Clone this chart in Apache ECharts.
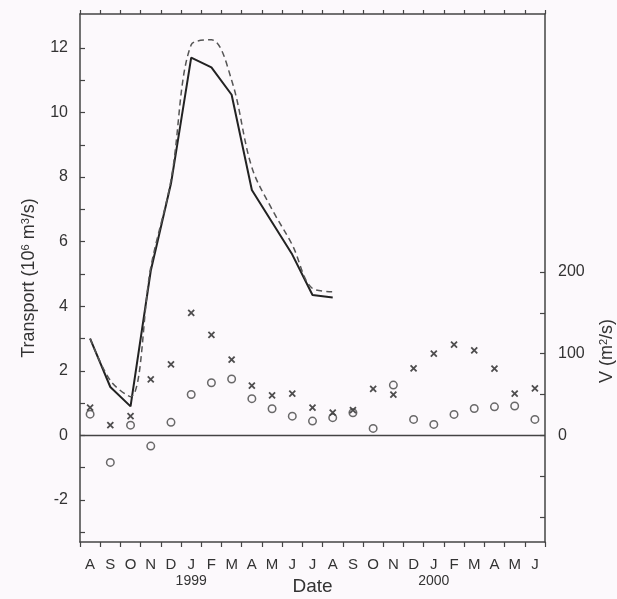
<!DOCTYPE html>
<html><head><meta charset="utf-8">
<script src="https://cdn.jsdelivr.net/npm/echarts@6/dist/echarts.min.js"></script>
<style>html,body{margin:0;padding:0;background:#fcf9fc}#c{width:617px;height:599px}</style>
</head><body><div id="c"></div>
<script>
// ---- data ----
const categories = ['1998-08','1998-09','1998-10','1998-11','1998-12','1999-01','1999-02','1999-03','1999-04','1999-05','1999-06','1999-07','1999-08','1999-09','1999-10','1999-11','1999-12','2000-01','2000-02','2000-03','2000-04','2000-05','2000-06'];
const monthLetters = ['A','S','O','N','D','J','F','M','A','M','J','J','A','S','O','N','D','J','F','M','A','M','J'];
const yearLabels = ['','','','','','1999','','','','','','','','','','','','2000','','','','',''];
const transportSolid  = [3.0,1.5,0.9,5.1,7.8,11.7,11.4,10.55,7.6,6.6,5.6,4.35,4.27,null,null,null,null,null,null,null,null,null,null];
const transportDashed = [3.0,1.7,1.2,5.2,7.9,12.1,12.25,11.0,8.3,7.0,5.9,4.55,4.45,null,null,null,null,null,null,null,null,null,null];
const crossV  = [34,12.6,23.6,68.5,87,150,123,92.6,61,49,51,34,27.8,31,57,50,82,100,111,104,81.6,51,57.5];
const circleV = [26,-33,12.6,-13,16,50,64.5,69,45,32.7,23.6,17.5,21.7,27.8,8.6,61.6,19.6,13.5,25.7,33,35,36,19.6];
const leftTickValues  = [-3,-2,-1,0,1,2,3,4,5,6,7,8,9,10,11,12];
const leftLabelValues = [-2,0,2,4,6,8,10,12];
const rightTickValues  = [-100,-50,0,50,100,150,200];
const rightLabelValues = [0,100,200];
const leftMin = -3.3, leftMax = 13.05, vPerTransport = 39.5;

// ---- chart ----
const ink = '#333';
const font = 'Liberation Sans, Arial, Helvetica, sans-serif';
const chart = echarts.init(document.getElementById('c'), null, {renderer:'canvas'});
const axisLineStyle = {color:'#444', width:1.5};
chart.setOption({
  backgroundColor:'#fcf9fc',
  animation:false,
  grid:{left:80, right:72, top:14, bottom:57, containLabel:false, outerBoundsMode:'none'},
  xAxis:[{
    type:'category', data:categories, position:'bottom', boundaryGap:true,
    axisLine:{show:true, onZero:false, lineStyle:axisLineStyle},
    axisTick:{show:true, inside:false, length:5, interval:0, lineStyle:{color:'#444', width:1.2}},
    axisLabel:{interval:0, margin:14, fontSize:15, lineHeight:17, color:ink, fontFamily:font,
      formatter:function(v, i){ return yearLabels[i] ? monthLetters[i] + '\n{y|' + yearLabels[i] + '}' : monthLetters[i]; },
      rich:{y:{fontSize:14, lineHeight:17, color:ink, fontFamily:font}}},
    splitLine:{show:false},
    name:'Date', nameLocation:'middle', nameGap:35, nameMoveOverlap:false,
    nameTextStyle:{fontSize:19, color:ink, fontFamily:font}
  },{
    type:'category', data:categories, position:'top', boundaryGap:true,
    axisLine:{show:true, onZero:false, lineStyle:axisLineStyle},
    axisTick:{show:true, inside:false, length:4, interval:0, lineStyle:{color:'#444', width:1.2}},
    axisLabel:{show:false}, splitLine:{show:false}
  }],
  yAxis:[{
    type:'value', position:'left', min:leftMin, max:leftMax,
    axisLine:{show:true, onZero:false, lineStyle:axisLineStyle},
    axisTick:{show:true, inside:true, length:5, customValues:leftTickValues, lineStyle:{color:'#444', width:1.2}},
    axisLabel:{show:true, margin:12, fontSize:16, color:ink, fontFamily:font, customValues:leftLabelValues},
    splitLine:{show:false},
    name:'Transport (10{s|6} m{s|3}/s)', nameLocation:'middle', nameGap:42, nameMoveOverlap:false,
    nameTextStyle:{fontSize:18, color:ink, fontFamily:font,
      rich:{s:{fontSize:11, color:ink, fontFamily:font, verticalAlign:'top', lineHeight:11}}}
  },{
    type:'value', position:'right', min:leftMin*vPerTransport, max:leftMax*vPerTransport,
    alignTicks:false,
    axisLine:{show:true, onZero:false, lineStyle:axisLineStyle},
    axisTick:{show:true, inside:true, length:5, customValues:rightTickValues, lineStyle:{color:'#444', width:1.2}},
    axisLabel:{show:true, margin:13, fontSize:16, color:ink, fontFamily:font, customValues:rightLabelValues},
    splitLine:{show:false}
  }],
  graphic:[{
    type:'text', x:607, y:351, rotation:Math.PI/2,
    style:{text:'V (m{s|2}/s)', fill:ink, fontSize:18, fontFamily:font, align:'center', verticalAlign:'middle',
      rich:{s:{fontSize:11, fill:ink, fontFamily:font, verticalAlign:'top', lineHeight:11}}}
  }],
  series:[{
    type:'line', name:'transport', data:transportSolid, xAxisIndex:0, yAxisIndex:0,
    showSymbol:false, symbol:'none', connectNulls:false,
    lineStyle:{color:'#222', width:2},
    markLine:{silent:true, symbol:'none', label:{show:false},
      lineStyle:{color:'#444', width:1.3, type:'solid'}, data:[{yAxis:0}]}
  },{
    type:'line', name:'transport2', data:transportDashed, xAxisIndex:0, yAxisIndex:0,
    showSymbol:false, symbol:'none', smooth:0.35,
    lineStyle:{color:'#555', width:1.5, type:[6,4]}
  },{
    type:'scatter', name:'crosses', data:crossV, xAxisIndex:0, yAxisIndex:1,
    symbol:'path://M0,0L10,10M10,0L0,10', symbolSize:6,
    itemStyle:{color:'none', borderColor:'#222', borderWidth:1.8}
  },{
    type:'scatter', name:'circles', data:circleV, xAxisIndex:0, yAxisIndex:1,
    symbol:'circle', symbolSize:7.5,
    itemStyle:{color:'rgba(0,0,0,0)', borderColor:'#444', borderWidth:1.5}
  }]
});
</script>
</body></html>
